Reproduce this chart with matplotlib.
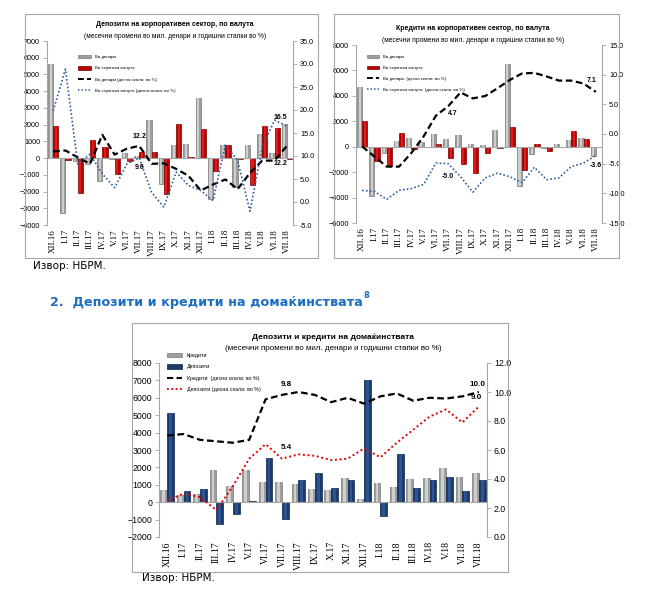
import matplotlib
matplotlib.use("Agg")
import matplotlib.pyplot as plt
from matplotlib.patches import Rectangle, Patch
from matplotlib.lines import Line2D
import numpy as np

plt.rcParams['font.family'] = ['Liberation Sans', 'DejaVu Sans']

months = ["XII.16", "I.17", "II.17", "III.17", "IV.17", "V.17", "VI.17", "VII.17",
          "VIII.17", "IX.17", "X.17", "XI.17", "XII.17", "I.18", "II.18", "III.18",
          "IV.18", "V.18", "VI.18", "VII.18"]

# chart 1 - corporate deposits
dep_den = [5600, -3300, -150, -350, -1350, -50, 300, 150, 2300, -1550,
           800, 850, 3600, -2450, 800, -1700, 800, 1450, 300, 2050]
dep_fx = [1900, -100, -2100, 1100, 650, -950, -150, 350, 350, -2150,
          2050, 50, 1750, -750, 800, -50, -1600, 1900, 1800, -30]
dep_den_rate = [11.0, 11.2, 9.7, 8.3, 14.6, 10.3, 11.6, 12.2, 8.3, 8.4,
                7.2, 5.7, 2.5, 3.8, 4.9, 2.8, 6.3, 9.0, 9.0, 12.2]
dep_fx_rate = [19.8, 28.9, 8.3, 10.4, 6.1, 3.1, 8.3, 9.6, 2.1, -1.1,
               6.5, 3.6, 2.5, 0.3, 12.5, 9.0, -2.0, 11.9, 17.8, 16.5]

# chart 2 - corporate loans
cr_den = [4700, -3900, -500, 450, 700, 400, 1000, 600, 950, 250,
          150, 1350, 6500, -3100, -550, -100, 250, 500, 650, -700]
cr_fx = [2000, -1150, -1550, 1100, -150, -50, 250, -850, -1350, -2100,
         -500, -100, 1550, -1800, 200, -300, -50, 1200, 600, -50]
cr_den_rate = [-2.1, -3.8, -5.5, -5.5, -3.2, -0.4, 3.1, 4.7, 7.0, 6.0,
               6.4, 7.7, 9.1, 10.2, 10.3, 9.7, 9.0, 9.0, 8.5, 7.1]
cr_fx_rate = [-9.5, -9.7, -11.0, -9.5, -9.2, -8.5, -4.9, -5.0, -7.2, -9.8,
              -7.4, -6.6, -7.2, -8.2, -5.6, -7.7, -7.4, -5.5, -4.9, -3.6]

# chart 3 - households
hh_loans = [700, 400, 500, 1850, 950, 1850, 1150, 1150, 1050, 750,
            700, 1400, 200, 1100, 850, 1350, 1400, 1950, 1450, 1650]
hh_dep = [5100, 650, 750, -1250, -650, 50, 2550, -950, 1300, 1700,
          800, 1300, 7050, -800, 2750, 800, 1250, 1450, 650, 1300]
hh_loans_rate = [7.0, 7.1, 6.7, 6.6, 6.5, 6.7, 9.5, 9.8, 10.0, 9.8,
                 9.3, 9.6, 9.2, 9.7, 9.9, 9.4, 9.6, 9.55, 9.7, 10.0]
hh_dep_rate = [2.5, 3.0, 2.75, 1.85, 3.5, 5.4, 6.4, 5.4, 5.7, 5.6,
               5.3, 5.4, 6.1, 5.5, 6.5, 7.4, 8.3, 8.8, 7.9, 9.0]

W, H = 670, 603
fig = plt.figure(figsize=(W / 100, H / 100), dpi=100)


def fx(x):
    return x / W


def fy(y):
    return 1 - y / H


def box(x0, y0, x1, y1):
    fig.add_artist(Rectangle((fx(x0), fy(y1)), fx(x1) - fx(x0), fy(y0) - fy(y1),
                             transform=fig.transFigure, fill=False,
                             edgecolor='#A6A6A6', lw=0.8))


def make_axes(x0, y0, x1, y1):
    ax = fig.add_axes([fx(x0), fy(y1), fx(x1) - fx(x0), fy(y0) - fy(y1)])
    ax2 = ax.twinx()
    for a in (ax, ax2):
        for s in ('top', 'bottom'):
            a.spines[s].set_visible(False)
        a.spines['left'].set_color('#A6A6A6')
        a.spines['right'].set_color('#A6A6A6')
        a.tick_params(colors='#A6A6A6', length=3, width=0.6, pad=2)
    ax.spines['right'].set_visible(False)
    ax2.spines['left'].set_visible(False)
    return ax, ax2


def style_ticks(ax, ax2, fs, xfs):
    for lab in ax.get_yticklabels() + ax2.get_yticklabels():
        lab.set_color('black')
        lab.set_fontsize(fs)
    ax.tick_params(axis='x', length=0, pad=3)
    for lab in ax.get_xticklabels():
        lab.set_color('black')
        lab.set_fontsize(xfs)
        lab.set_family('Liberation Serif')


def shaded_bars(ax, pos, vals, w, main, light, edge):
    ax.bar(pos, vals, w, color=main, edgecolor=edge, lw=0.5)
    ax.bar(pos, vals, w * 0.4, color=light, lw=0)


x = np.arange(len(months))
bw = 0.42
grey, grey_l, grey_e = '#9E9E9E', '#CFCFCF', '#7A7A7A'
red, red_l, red_e = '#B80000', '#E31A1A', '#7A0000'
navy, navy_l, navy_e = '#1C3A6C', '#2D5591', '#0E2447'
blue_line = '#2E5FA3'

lab = dict(fontsize=5, fontweight='bold', ha='center', va='center', textcoords='offset pixels')

# ---------------- chart 1 ----------------
box(25, 14, 318, 258)
ax, ax2 = make_axes(47, 41, 293, 225)
shaded_bars(ax, x - bw / 2, dep_den, bw, grey, grey_l, grey_e)
shaded_bars(ax, x + bw / 2, dep_fx, bw, red, red_l, red_e)
ax.axhline(0, color='#A6A6A6', lw=0.8)
ax.set_ylim(-4000, 7000)
ax.set_yticks(range(-4000, 7001, 1000))
ax.set_xlim(-0.5, 19.5)
ax.set_xticks(x)
ax.set_xticklabels(months, rotation=90)
ax2.plot(x, dep_den_rate, color='black', lw=1.6, ls=(0, (3, 1.6)))
ax2.plot(x, dep_fx_rate, color=blue_line, lw=1.2, ls=(0, (1, 1.3)))
ax2.set_ylim(-5, 35)
ax2.set_yticks(np.arange(-5, 35.1, 5))
ax2.set_yticklabels([f"{v:.1f}" for v in np.arange(-5, 35.1, 5)])
style_ticks(ax, ax2, 5.2, 6.5)
ax2.annotate("12.2", (7, dep_den_rate[7]), xytext=(0, 9), **lab)
ax2.annotate("9.6", (7, dep_fx_rate[7]), xytext=(0, -10), **lab)
ax2.annotate("16.5", (19, dep_fx_rate[19]), xytext=(-6, 9), **lab)
ax2.annotate("12.2", (19, dep_den_rate[19]), xytext=(-6, -18), **lab)
fig.text(fx(175), fy(25), "Депозити на корпоративен сектор, по валута",
         fontsize=5, fontweight='bold', ha='center', va='center')
fig.text(fx(175), fy(36), "(месечни промени во мил. денари и годишни стапки во %)",
         fontsize=4.8, ha='center', va='center')
h1 = [Patch(facecolor=grey, edgecolor=grey_e, lw=0.5),
      Patch(facecolor=red, edgecolor=red_e, lw=0.5),
      Line2D([], [], color='black', lw=1.4, ls=(0, (3, 1.6))),
      Line2D([], [], color=blue_line, lw=1.1, ls=(0, (1, 1.3)))]
l1 = ["Во денари", "Во странска валута", "Во денари (десна скала: во %)",
      "Во странска валута (десна скала: во %)"]
ax2.legend(h1, l1, loc='upper left', bbox_to_anchor=(fx(78), fy(55)),
           bbox_transform=fig.transFigure, frameon=False, fontsize=3.2,
           handlelength=2.9, handleheight=0.8, labelspacing=1.55, handletextpad=0.9,
           borderpad=0, borderaxespad=0)

# ---------------- chart 2 ----------------
box(334, 14, 619, 258)
ax, ax2 = make_axes(356, 45, 602, 223)
shaded_bars(ax, x - bw / 2, cr_den, bw, grey, grey_l, grey_e)
shaded_bars(ax, x + bw / 2, cr_fx, bw, red, red_l, red_e)
ax.axhline(0, color='#A6A6A6', lw=0.8)
ax.set_ylim(-6000, 8000)
ax.set_yticks(range(-6000, 8001, 2000))
ax.set_xlim(-0.5, 19.5)
ax.set_xticks(x)
ax.set_xticklabels(months, rotation=90)
ax2.plot(x, cr_den_rate, color='black', lw=1.6, ls=(0, (3, 1.6)))
ax2.plot(x, cr_fx_rate, color=blue_line, lw=1.2, ls=(0, (1, 1.3)))
ax2.set_ylim(-15, 15)
ax2.set_yticks(np.arange(-15, 15.1, 5))
ax2.set_yticklabels([f"{v:.1f}" for v in np.arange(-15, 15.1, 5)])
style_ticks(ax, ax2, 5.2, 6.5)
ax2.annotate("4.7", (7, cr_den_rate[7]), xytext=(4, -7), **lab)
ax2.annotate("7.1", (19, cr_den_rate[19]), xytext=(-4, 11), **lab)
ax2.annotate("-5.0", (7, cr_fx_rate[7]), xytext=(0, -13), **lab)
ax2.annotate("-3.6", (19, cr_fx_rate[19]), xytext=(0, -10), **lab)
fig.text(fx(473), fy(29), "Кредити на корпоративен сектор, по валута",
         fontsize=5, fontweight='bold', ha='center', va='center')
fig.text(fx(473), fy(40), "(месечни промени во мил. денари и годишни стапки во %)",
         fontsize=4.8, ha='center', va='center')
l2 = ["Во денари", "Во странска валута", "Во денари  (десна скала: во %)",
      "Во странска валута  (десна скала: во %)"]
ax2.legend(h1, l2, loc='upper left', bbox_to_anchor=(fx(367), fy(55)),
           bbox_transform=fig.transFigure, frameon=False, fontsize=3.2,
           handlelength=2.7, handleheight=0.8, labelspacing=1.5, handletextpad=0.9,
           borderpad=0, borderaxespad=0)

# ---------------- heading + sources ----------------
fig.text(fx(33), fy(266), "Извор: НБРМ.", fontsize=7.5, family='DejaVu Sans',
         ha='left', va='center')
head = fig.text(fx(50), fy(302), "2.  Депозити и кредити на домаќинствата",
                fontsize=9.2, fontweight='bold', family='DejaVu Sans', color='#1B6EC2',
                ha='left', va='center')
r = fig.canvas.get_renderer()
bb = head.get_window_extent(renderer=r)
fig.text(bb.x1 / W + 0.001, fy(296), "8", fontsize=6, fontweight='bold',
         family='DejaVu Sans', color='#1B6EC2', ha='left', va='center')

# ---------------- chart 3 ----------------
box(132, 323, 508, 572)
ax, ax2 = make_axes(159, 363, 487, 537)
shaded_bars(ax, x - bw / 2, hh_loans, bw, grey, grey_l, grey_e)
shaded_bars(ax, x + bw / 2, hh_dep, bw, navy, navy_l, navy_e)
ax.axhline(0, color='#A6A6A6', lw=0.8)
ax.set_ylim(-2000, 8000)
ax.set_yticks(range(-2000, 8001, 1000))
ax.set_xlim(-0.5, 19.5)
ax.set_xticks(x)
ax.set_xticklabels(months, rotation=90)
ax2.plot(x, hh_loans_rate, color='black', lw=1.6, ls=(0, (3, 1.6)))
ax2.plot(x, hh_dep_rate, color='#E00000', lw=1.4, ls=(0, (1, 1.4)))
ax2.set_ylim(0, 12)
ax2.set_yticks(np.arange(0, 12.1, 2))
ax2.set_yticklabels([f"{v:.1f}" for v in np.arange(0, 12.1, 2)])
style_ticks(ax, ax2, 6.3, 7)
lab3 = dict(lab, fontsize=5.8)
ax2.annotate("9.8", (7, hh_loans_rate[7]), xytext=(4, 10), **lab3)
ax2.annotate("5.4", (7, hh_dep_rate[7]), xytext=(4, 11), **lab3)
ax2.annotate("10.0", (19, hh_loans_rate[19]), xytext=(-1, 8), **lab3)
ax2.annotate("9.0", (19, hh_dep_rate[19]), xytext=(-2, 9), **lab3)
fig.text(fx(333), fy(337), "Депозити и кредити на домаќинствата",
         fontsize=6, fontweight='bold', ha='center', va='center')
fig.text(fx(333), fy(348), "(месечни промени во мил. денари и годишни стапки во %)",
         fontsize=5.8, ha='center', va='center')
h3 = [Patch(facecolor=grey, edgecolor=grey_e, lw=0.5),
      Patch(facecolor=navy, edgecolor=navy_e, lw=0.5),
      Line2D([], [], color='black', lw=1.5, ls=(0, (3, 1.6))),
      Line2D([], [], color='#E00000', lw=1.3, ls=(0, (1, 1.4)))]
l3 = ["Кредити", "Депозити", "Кредити  (десна скала: во %)", "Депозити (десна скала: во %)"]
ax2.legend(h3, l3, loc='upper left', bbox_to_anchor=(fx(167), fy(353)),
           bbox_transform=fig.transFigure, frameon=False, fontsize=3.8,
           handlelength=2.8, handleheight=0.8, labelspacing=1.2, handletextpad=0.9,
           borderpad=0, borderaxespad=0)

fig.text(fx(142), fy(578), "Извор: НБРМ.", fontsize=7.5, family='DejaVu Sans',
         ha='left', va='center')

fig.savefig("out.png", dpi=100)
